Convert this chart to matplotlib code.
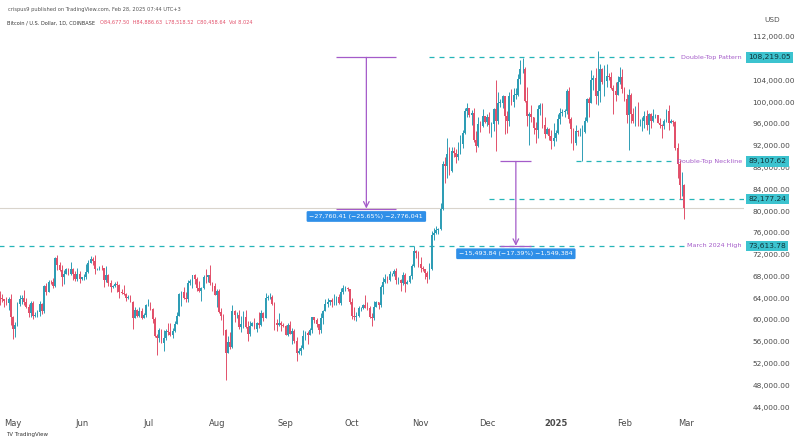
import numpy as np
import pandas as pd
import matplotlib.pyplot as plt
from matplotlib.transforms import blended_transform_factory

# daily BTC/USD candles (thousands of USD), starting 2024-04-25
start = "2024-04-25"
first_open = 64.5
close = [
    64.1, 63.8, 63.4, 63.1, 63.8, 60.6,
    58.3, 59.1, 62.9, 63.9, 64.0, 63.2, 62.3, 61.2, 63.1, 60.8, 60.8, 61.5, 62.9, 61.6, 66.3, 65.2, 67.0, 66.9, 66.3, 71.4, 70.1, 69.2, 67.9, 68.5, 69.3, 68.5, 69.4, 68.4, 67.6, 68.4, 67.5,
    67.8, 67.8, 68.8, 70.5, 71.1, 70.8, 69.3, 69.3, 69.6, 69.5, 67.3, 68.2, 66.8, 66.0, 66.2, 66.6, 66.5, 65.2, 64.9, 64.8, 64.1, 64.2, 63.2, 60.3, 61.8, 60.8, 61.6, 60.3, 60.9, 62.7,
    62.8, 62.0, 60.2, 57.0, 56.6, 58.2, 55.8, 56.7, 58.0, 57.7, 57.3, 57.9, 59.2, 60.8, 64.8, 65.1, 64.1, 63.9, 66.7, 67.2, 68.2, 67.6, 65.9, 65.4, 65.8, 67.9, 67.8, 68.2, 66.8, 66.2, 64.6,
    65.3, 61.5, 60.7, 58.1, 54.0, 56.0, 55.0, 61.7, 60.9, 60.9, 58.7, 59.3, 60.6, 58.7, 57.5, 58.9, 59.5, 58.4, 59.5, 59.0, 61.2, 60.4, 64.1, 64.2, 64.2, 62.9, 59.4, 59.0, 59.4, 59.1, 58.9,
    57.3, 59.1, 57.5, 58.0, 56.2, 53.9, 54.2, 54.9, 57.0, 57.6, 57.3, 58.1, 60.6, 60.0, 59.2, 58.2, 60.3, 61.7, 62.9, 63.2, 63.6, 63.3, 63.3, 64.3, 63.1, 65.2, 65.8, 65.8, 65.6, 63.3,
    60.8, 60.6, 60.8, 62.1, 62.1, 62.8, 62.2, 62.1, 60.6, 60.3, 62.4, 63.2, 62.8, 66.0, 67.0, 67.6, 67.4, 68.4, 68.4, 69.0, 67.4, 67.4, 66.7, 68.2, 66.6, 67.0, 68.0, 69.9, 72.7, 72.3, 70.2,
    69.5, 69.3, 68.7, 67.8, 69.4, 75.6, 75.9, 76.5, 76.7, 80.4, 88.7, 88.3, 90.4, 87.3, 91.1, 90.6, 89.9, 90.5, 92.3, 94.3, 98.4, 98.9, 97.7, 98.0, 93.0, 91.9, 95.9, 95.6, 97.5, 96.4,
    97.2, 95.8, 96.0, 98.8, 96.6, 99.9, 99.9, 101.1, 97.4, 96.6, 101.1, 100.0, 101.4, 101.4, 104.3, 106.0, 106.1, 100.2, 97.5, 97.8, 97.2, 95.2, 94.9, 98.7, 99.4, 95.8, 94.2, 95.1, 93.7, 92.8, 93.4,
    94.4, 96.9, 98.1, 98.2, 98.3, 102.1, 96.9, 95.0, 92.5, 94.7, 94.5, 94.5, 94.5, 96.5, 100.5, 99.9, 104.1, 104.4, 101.2, 102.0, 106.1, 103.7, 103.9, 104.8, 104.7, 102.6, 102.1, 101.3, 103.7, 104.7, 102.4,
    100.6, 97.7, 101.4, 97.9, 96.6, 96.6, 96.5, 96.5, 96.5, 97.4, 95.8, 97.9, 96.6, 97.5, 97.6, 96.2, 95.8, 95.6, 96.6, 98.3, 96.1, 96.6, 96.3, 91.5, 88.7, 84.7, 84.7, 80.5,
]
high = [
    65.3, 64.8, 63.9, 64.3, 64.2, 64.7,
    60.8, 59.6, 63.3, 64.5, 64.6, 65.5, 64.0, 62.9, 63.4, 63.5, 61.5, 61.8, 63.4, 63.1, 66.5, 66.7, 67.4, 67.4, 67.7, 71.5, 71.9, 70.6, 70.0, 69.2, 69.5, 69.5, 70.6, 69.6, 68.9, 69.5, 69.0,
    67.9, 68.4, 70.3, 71.0, 71.8, 71.6, 71.9, 69.5, 69.9, 70.1, 69.6, 69.9, 68.4, 67.3, 66.4, 66.9, 67.2, 66.6, 65.7, 66.4, 65.0, 64.5, 64.5, 63.4, 62.3, 62.0, 62.3, 62.2, 61.2, 62.9,
    63.8, 63.3, 62.2, 60.5, 57.5, 58.5, 58.3, 58.2, 58.3, 59.4, 59.5, 58.5, 59.8, 61.4, 64.9, 65.3, 66.1, 65.1, 67.4, 67.6, 68.3, 68.5, 67.8, 67.1, 66.1, 68.2, 69.4, 68.3, 70.0, 66.9, 66.8,
    65.6, 65.6, 62.2, 61.1, 58.3, 57.0, 57.7, 62.7, 61.8, 61.5, 61.8, 60.7, 61.6, 61.8, 59.8, 59.8, 59.6, 60.3, 59.6, 61.4, 61.8, 61.4, 64.9, 64.5, 65.0, 64.5, 63.2, 60.2, 61.2, 59.8, 59.4,
    59.0, 59.4, 59.8, 58.5, 58.3, 56.9, 54.8, 55.3, 58.1, 58.0, 57.9, 58.6, 60.6, 60.6, 60.4, 59.2, 61.3, 61.8, 63.8, 64.1, 63.6, 64.0, 64.7, 64.4, 64.8, 65.8, 66.5, 66.3, 66.0, 65.6,
    64.1, 62.4, 61.5, 62.5, 62.4, 63.0, 64.5, 63.2, 62.5, 61.3, 63.4, 63.5, 63.3, 66.5, 67.9, 68.4, 68.0, 68.9, 68.7, 69.4, 69.5, 67.8, 67.5, 68.8, 68.7, 67.4, 68.3, 70.2, 73.6, 72.9, 72.7,
    71.6, 69.9, 69.4, 69.0, 70.5, 76.4, 76.9, 77.2, 76.8, 81.4, 89.2, 89.9, 93.4, 91.8, 91.8, 91.7, 91.4, 92.6, 94.0, 94.9, 98.9, 99.8, 98.8, 98.5, 98.9, 94.7, 97.2, 96.6, 98.7, 97.5,
    97.9, 98.2, 96.3, 99.0, 104.0, 101.9, 100.5, 101.4, 101.2, 98.3, 101.9, 102.5, 102.6, 102.6, 105.1, 107.8, 108.2, 106.5, 102.8, 98.2, 99.5, 97.3, 96.4, 99.4, 99.9, 99.9, 97.3, 95.5, 95.2, 94.9, 96.1,
    94.9, 97.8, 98.9, 98.7, 98.8, 102.5, 102.7, 97.2, 95.3, 95.8, 94.9, 95.3, 95.8, 97.3, 100.7, 100.9, 105.9, 104.9, 106.3, 109.4, 107.1, 106.3, 106.8, 107.1, 105.3, 105.5, 103.2, 103.7, 104.8, 106.4, 106.1,
    102.8, 101.5, 102.5, 101.7, 99.0, 99.3, 100.1, 96.9, 97.3, 98.3, 98.5, 98.1, 98.0, 98.8, 97.9, 97.7, 97.0, 96.0, 96.9, 98.7, 99.5, 96.9, 96.7, 96.5, 92.5, 89.3, 87.1, 84.9,
]
low = [
    62.8, 63.3, 62.4, 62.8, 61.8, 59.1,
    56.5, 56.9, 58.8, 62.6, 62.9, 62.7, 62.1, 60.6, 60.6, 60.2, 60.5, 60.6, 60.8, 61.1, 61.3, 64.6, 65.1, 66.6, 65.8, 66.1, 69.2, 68.9, 66.3, 66.6, 68.5, 68.3, 68.3, 67.3, 67.2, 67.1, 66.7,
    67.4, 67.3, 67.6, 68.6, 70.4, 70.1, 68.5, 69.2, 69.1, 69.2, 66.1, 66.9, 66.3, 65.1, 65.9, 66.0, 65.1, 64.1, 64.7, 64.6, 63.4, 63.9, 63.2, 58.4, 60.3, 60.6, 60.6, 60.1, 60.4, 60.6,
    62.5, 61.8, 59.4, 56.8, 53.5, 56.0, 55.7, 54.3, 56.3, 57.2, 57.1, 56.6, 57.8, 59.3, 60.7, 62.5, 63.9, 63.2, 63.3, 66.4, 65.8, 66.6, 65.4, 65.1, 63.4, 65.7, 66.7, 67.0, 66.5, 65.3, 64.5,
    62.3, 61.3, 59.9, 57.3, 49.0, 53.9, 54.6, 54.8, 59.6, 60.3, 58.4, 57.7, 58.5, 58.5, 56.1, 57.1, 58.8, 58.4, 57.8, 58.6, 58.9, 59.8, 60.4, 63.6, 63.8, 62.8, 58.1, 57.9, 58.8, 57.9, 58.7,
    57.2, 57.1, 57.4, 55.6, 55.7, 52.5, 53.7, 53.6, 54.6, 56.4, 55.6, 57.3, 57.6, 59.4, 58.7, 57.5, 57.6, 59.2, 61.7, 62.4, 62.8, 62.4, 62.7, 62.7, 62.9, 62.7, 64.8, 65.4, 65.3, 62.9,
    60.2, 59.9, 59.8, 60.5, 61.7, 62.0, 62.1, 61.8, 60.3, 58.9, 60.0, 62.4, 62.0, 62.4, 64.8, 66.7, 66.7, 67.1, 68.0, 68.1, 66.6, 66.6, 65.3, 66.5, 65.1, 66.6, 66.8, 67.5, 69.7, 71.4, 69.7,
    68.8, 69.0, 67.5, 66.8, 67.5, 69.2, 74.6, 75.7, 75.8, 76.5, 80.2, 85.1, 86.1, 86.7, 87.1, 90.0, 88.8, 89.4, 90.4, 91.5, 94.1, 97.2, 97.2, 95.8, 92.6, 90.8, 91.8, 94.6, 95.4, 96.1,
    95.7, 94.3, 93.6, 94.7, 91.0, 95.9, 99.1, 98.9, 94.2, 94.3, 95.7, 99.4, 99.2, 100.6, 101.2, 103.3, 105.3, 100.0, 95.7, 92.2, 96.4, 94.2, 92.5, 93.4, 97.6, 95.2, 93.4, 94.1, 93.0, 91.4, 92.0,
    92.8, 94.2, 96.0, 97.5, 97.3, 97.9, 96.1, 92.5, 91.2, 92.2, 93.8, 93.7, 89.2, 94.3, 96.4, 97.3, 100.0, 102.3, 99.6, 99.5, 100.1, 103.3, 101.2, 102.8, 104.1, 102.5, 97.8, 100.3, 101.3, 103.3, 101.6,
    100.3, 96.2, 91.2, 96.2, 96.2, 95.7, 95.6, 95.7, 94.7, 95.3, 94.9, 94.1, 95.2, 96.3, 97.1, 96.1, 95.3, 93.4, 95.1, 96.4, 94.9, 96.1, 95.7, 91.2, 86.0, 82.3, 82.7, 78.5,
]

months = ["2024-05-01", "2024-06-01", "2024-07-01", "2024-08-01", "2024-09-01", "2024-10-01",
          "2024-11-01", "2024-12-01", "2025-01-01", "2025-02-01", "2025-03-01"]
month_labels = ["May", "Jun", "Jul", "Aug", "Sep", "Oct", "Nov", "Dec", "2025", "Feb", "Mar"]

# horizontal levels drawn on the chart
levels = [108219.05, 89107.62, 82177.24, 73613.78]
level_text = ["Double-Top Pattern", "Double-Top Neckline", "", "March 2024 High"]
level_from = ["2024-11-05", "2025-01-10", "2024-12-02", "2024-04-20"]
level_to = ["2025-02-25", "2025-02-23", "2025-03-27", "2025-02-28"]

# price-range measurements: (start, end, top, bottom, label)
measures = [
    ("2024-09-24", "2024-10-21", 108219.05, 80458.64, "\u221227,760.41 (\u221225.65%) \u22122,776,041"),
    ("2024-12-07", "2024-12-21", 89107.62, 73613.78, "\u221215,493.84 (\u221217.39%) \u22121,549,384"),
]

up_col = "#2e9db5"
down_col = "#e2506a"
teal = "#26b5b8"
purple = "#a45bc9"

base = pd.Timestamp("2024-05-01")
def day(d):
    return (pd.Timestamp(d) - base).days

dates = pd.date_range(start, periods=len(close), freq="D")
x = np.array([(d - base).days for d in dates])
c = np.array(close) * 1000
h = np.array(high) * 1000
l = np.array(low) * 1000
o = np.concatenate([[first_open * 1000], c[:-1]])
h = np.maximum(h, np.maximum(o, c))
l = np.minimum(l, np.minimum(o, c))
up = c >= o
cols = np.where(up, up_col, down_col)

fig = plt.figure(figsize=(8, 4.45), dpi=100)
ax = fig.add_axes([0.0, 0.074, 0.93, 0.859])

ax.vlines(x, l, h, colors=cols, linewidth=0.7, zorder=3)
body = np.maximum(np.abs(c - o), 60)
ax.bar(x, body, bottom=np.minimum(o, c), width=0.8, color=cols, linewidth=0, zorder=4)

# current price line
ax.axhline(c[-1], color="#d9d4cc", linewidth=0.8, zorder=1)

trans = blended_transform_factory(ax.transAxes, ax.transData)
for lv, txt, a, b in zip(levels, level_text, level_from, level_to):
    ax.hlines(lv, day(a), day(b), colors=teal, linestyles=(0, (4, 4)), linewidth=0.9, zorder=2)
    if txt:
        ax.text(0.997, lv, txt, transform=trans, color=purple, fontsize=4.6, va="center", ha="right", zorder=5)
    ax.text(1.006, lv, f"{lv:,.2f}", transform=trans, fontsize=5.4, color="#10343a", va="center",
            ha="left", clip_on=False, zorder=6,
            bbox=dict(boxstyle="square,pad=0.3", fc="#3cc3cf", ec="none"))

for a, b, top, bot, lab in measures:
    xa, xb = day(a), day(b)
    xm = (xa + xb) / 2
    ax.hlines([top, bot], xa, xb, colors=purple, linewidth=0.9, zorder=5)
    ax.annotate("", xy=(xm, bot), xytext=(xm, top),
                arrowprops=dict(arrowstyle="->", color=purple, lw=0.9, shrinkA=0, shrinkB=0), zorder=5)
    ax.text(xm, bot - 1000, lab, fontsize=4.6, color="white", ha="center", va="top", zorder=6,
            bbox=dict(boxstyle="round,pad=0.45,rounding_size=0.2", fc="#2f8fe8", ec="none"))

ax.set_xlim(day("2024-05-01") - 5.9, day("2025-03-27"))
ax.set_ylim(43070, 113290)

# the 108,000 label sits under the 108,219.05 level box
yt = np.arange(44000, 112001, 4000)
ax.set_yticks(yt)
ax.set_yticklabels(["" if v == 108000 else f"{v:,.2f}" for v in yt])
ax.yaxis.tick_right()
ax.tick_params(axis="y", length=0, pad=6, labelsize=5.3, labelcolor="#4a4a4a")

ax.set_xticks([day(m) for m in months])
ax.set_xticklabels(month_labels)
ax.tick_params(axis="x", length=0, pad=5, labelsize=6.0, labelcolor="#4a4a4a")
for t in ax.get_xticklabels():
    if t.get_text() == "2025":
        t.set_fontweight("bold")

for s in ax.spines.values():
    s.set_visible(False)
ax.grid(False)

fig.text(0.01, 0.985, "crispus9 published on TradingView.com, Feb 28, 2025 07:44 UTC+3",
         fontsize=3.7, color="#555555", va="top")
fig.text(0.009, 0.955, "Bitcoin / U.S. Dollar, 1D, COINBASE", fontsize=3.6, color="#333333", va="top")
fig.text(0.125, 0.955, "O84,677.50  H84,886.63  L78,518.52  C80,458.64  Vol 8.024",
         fontsize=3.6, color="#e2506a", va="top")
fig.text(0.955, 0.962, "USD", fontsize=5.3, color="#555555", va="top")
fig.text(0.007, 0.018, "TV TradingView", fontsize=4.0, color="#333333", va="bottom")

fig.savefig("out.png", dpi=100)
